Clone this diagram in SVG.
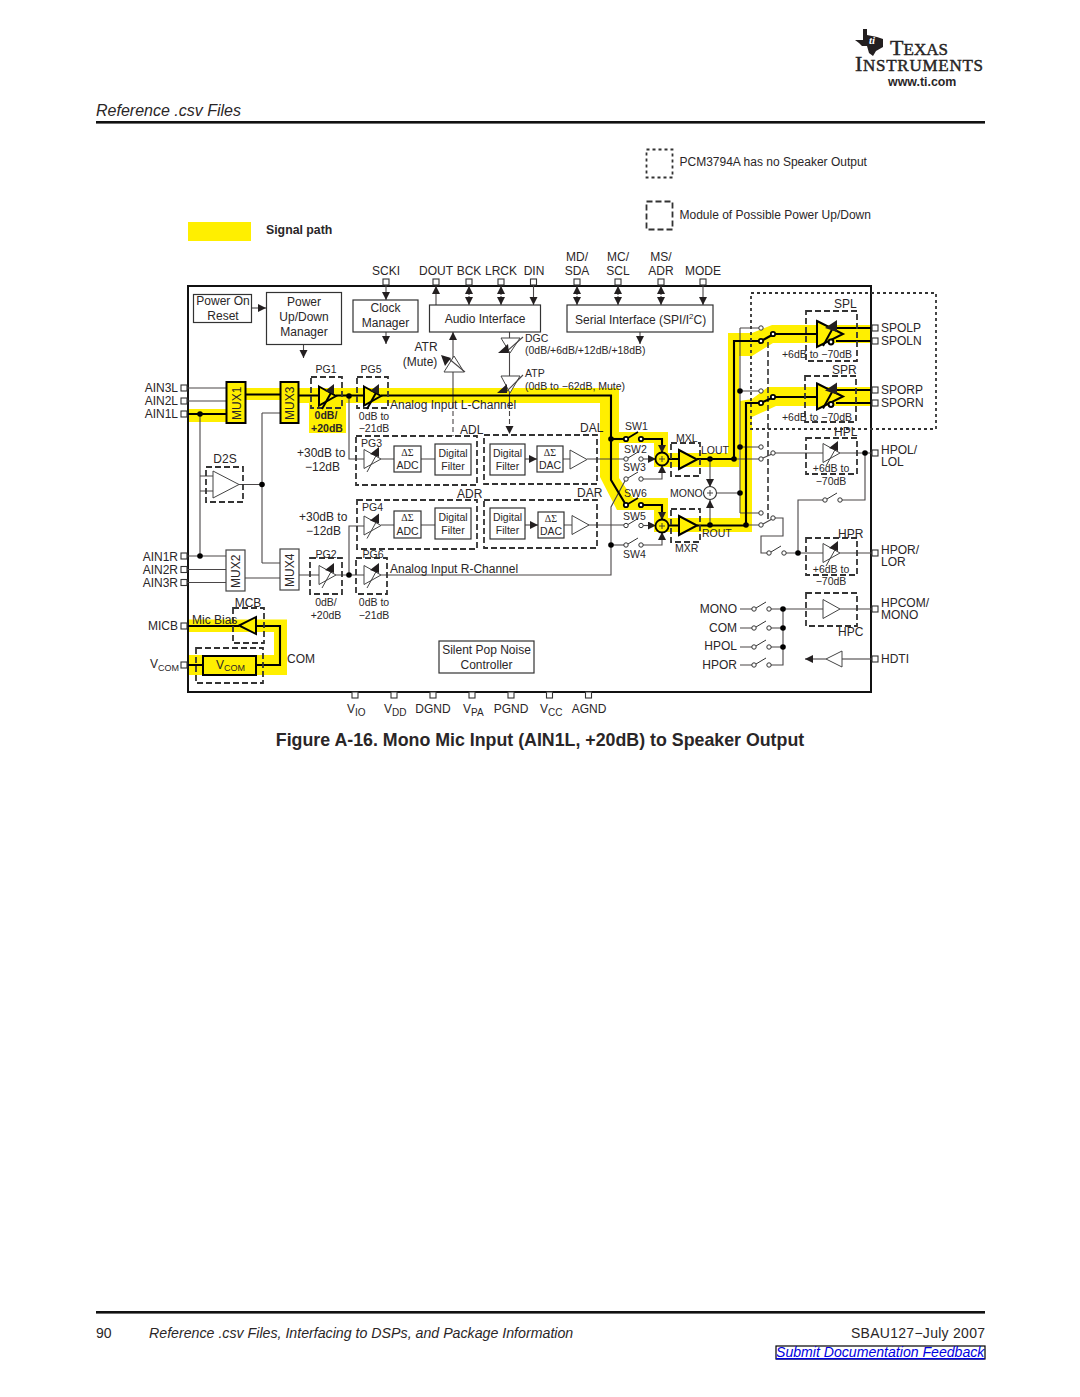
<svg xmlns="http://www.w3.org/2000/svg" width="1080" height="1397" viewBox="0 0 1080 1397">
<style>
text{font-family:"Liberation Sans",Arial,sans-serif;font-size:12px;fill:#2a2627}
.m{text-anchor:middle}.e{text-anchor:end}
.s{font-size:10.5px}.xs{font-size:10px}.bd{font-weight:bold}
.sym{font-family:"Liberation Serif",serif;font-size:10px}
.l{fill:none;stroke:#4a4647;stroke-width:1.1}
.b{fill:none;stroke:#000;stroke-width:2.1}
.box{fill:#fff;stroke:#333;stroke-width:1.2}
.mux{fill:#fff;stroke:#444;stroke-width:1.2}
.muxy{fill:#ffef00;stroke:#000;stroke-width:2}
.dash{fill:none;stroke:#333;stroke-width:1.8;stroke-dasharray:6 3}
.dotted{fill:none;stroke:#333;stroke-width:1.8;stroke-dasharray:3 3}
.dot{fill:#000}
.pin{fill:#fff;stroke:#333;stroke-width:1.1}
.y{fill:#ffef00;stroke:none}
.ath{fill:#fff;stroke:#444;stroke-width:1}
.atb{fill:#ffef00;stroke:#000;stroke-width:2}
.c{fill:#fff;stroke:#333;stroke-width:1}
.cb{fill:#fff;stroke:#000;stroke-width:1.8}
.logo{font-family:"Liberation Serif",serif;font-size:22px;stroke:#231f20;stroke-width:.45}
</style>
<defs>
<marker id="ah" markerUnits="userSpaceOnUse" markerWidth="9" markerHeight="9" refX="8" refY="4" orient="auto"><path d="M0 0L8 4L0 8Z" fill="#231f20"/></marker>
<g id="amp"><path d="M0-9.5L17 0L0 9.5Z"/></g>
<g id="pga"><path d="M0-9.5L17 0L0 9.5Z"/><path d="M3 13L13-5" fill="none"/><path d="M6-5L15-12V-2Z" fill="#231f20" stroke="none"/></g>
<g id="pgb"><path d="M0-13L26 0L0 13Z"/><path d="M6 12L17-8" fill="none"/><path d="M8-6L20-14V-2Z" fill="#231f20" stroke="none"/><circle cx="14" cy="8" r="2.4" fill="#fff"/></g>
<g id="sw"><path d="M2-1L12-7" fill="none"/><circle cx="0" cy="0" r="2.2"/><circle cx="15" cy="0" r="2.2"/></g>
</defs>

<rect width="1080" height="1397" fill="#fff"/>

<g id="logo">
<path d="M863 29H867V35L877 37L883 39V47L876 51L873 56L869 53L867 46H862L859 43L855 40H863Z" fill="#231f20"/>
<text x="869" y="44" style="font:italic bold 11px 'Liberation Serif',serif;fill:#fff">ti</text>
<text x="890" y="55" class="logo" textLength="58">T<tspan font-size="17">EXAS</tspan></text>
<text x="855" y="71" class="logo" textLength="128">I<tspan font-size="17">NSTRUMENTS</tspan></text>
<text x="888" y="86" class="bd" style="font-size:12.4px">www.ti.com</text>
</g>

<g id="page-header">
<text x="96" y="116" style="font-size:16px;font-style:italic">Reference .csv Files</text>
<rect x="96" y="121" width="889" height="2.6" fill="#111"/>
</g>

<g id="legend">
<rect x="646.500" y="149.500" width="26" height="28" class="dotted"/>
<text x="679.500" y="166">PCM3794A has no Speaker Output</text>
<rect x="646.500" y="201.500" width="26" height="28" class="dash"/>
<text x="679.500" y="219">Module of Possible Power Up/Down</text>
<rect x="188" y="222" width="63" height="19" class="y"/>
<text x="266" y="234" class="bd" style="font-size:12.3px">Signal path</text>
</g>

<g id="signal-highlight">
<rect x="246" y="388" width="34" height="12" class="y"/>
<rect x="188" y="409" width="38" height="13" class="y"/>
<rect x="309" y="400" width="37" height="33" class="y"/>
<path class="y" d="M299 388H619V432H668V453H728V333H752L772 325H871V343H773L752 356H739V467H654V443H619V478L633 498H668V518H740V401L752 399L768 387H871V406H776L752 417V532H654V510H617L600 477V403H299Z"/>
<path class="y" d="M188 619.500H287V675H188V655H274V632H188Z"/>
</g>

<rect id="device-frame" x="188" y="286" width="683" height="406" fill="none" stroke="#111" stroke-width="2"/>

<g id="connectors">
<!-- clock and serial control -->
<path class="l" marker-end="url(#ah)" d="M386 285V300"/>
<path class="l" marker-end="url(#ah)" d="M386 332V344"/>
<path class="l" marker-end="url(#ah)" d="M436 305V286"/>
<path class="l" marker-end="url(#ah)" d="M469 295V286"/>
<path class="l" marker-end="url(#ah)" d="M469 296V305"/>
<path class="l" marker-end="url(#ah)" d="M501 295V286"/>
<path class="l" marker-end="url(#ah)" d="M501 296V305"/>
<path class="l" marker-end="url(#ah)" d="M533.500 285V305"/>
<path class="l" marker-end="url(#ah)" d="M577 295V286"/>
<path class="l" marker-end="url(#ah)" d="M577 296V305"/>
<path class="l" marker-end="url(#ah)" d="M618 295V286"/>
<path class="l" marker-end="url(#ah)" d="M618 296V305"/>
<path class="l" marker-end="url(#ah)" d="M661 295V286"/>
<path class="l" marker-end="url(#ah)" d="M661 296V305"/>
<path class="l" marker-end="url(#ah)" d="M703 285V305"/>
<path class="l" marker-end="url(#ah)" d="M640 332V344"/>
<path class="l" marker-end="url(#ah)" d="M252 308H266"/>
<path class="l" marker-end="url(#ah)" d="M303.500 344V358"/>
<!-- left inputs -->
<path class="l" d="M187 388H226M187 401H226M187 556H226M187 569.500H226M187 582.500H226"/>
<path class="l" d="M200 414V556M200 476H213M200 491H213"/>
<path class="l" d="M239 484.500H262M262 413V563M262 413H280M262 563H280M245 578H280"/>
<path class="l" d="M299 575H319M336 575H364M381 575H611V507L626 479"/>
<path class="l" d="M349 396V459H364M349 575V526H364"/>
<!-- ADC and DAC chains -->
<path class="l" d="M381 459H394M421 459H435M381 525H394M421 525H435"/>
<path class="l" marker-end="url(#ah)" d="M525 459H537"/>
<path class="l" marker-end="url(#ah)" d="M525 525H538"/>
<path class="l" d="M563 459H570M564 525H572"/>
<path class="l" d="M587 459H626M588 525H626"/>
<path class="l" marker-end="url(#ah)" d="M641 459H656"/>
<path class="l" marker-end="url(#ah)" d="M641 525.500H656"/>
<path class="l" marker-end="url(#ah)" d="M641 479H662V465"/>
<path class="l" marker-end="url(#ah)" d="M641 545H662V532"/>
<path class="l" d="M611 545H626"/>
<!-- record path and playback bypass -->
<path class="l" marker-end="url(#ah)" d="M453 403V332"/>
<path class="l" stroke-dasharray="5 3" d="M453 403V436"/>
<path class="l" d="M509.500 332V403"/>
<path class="l" stroke-dasharray="5 3" marker-end="url(#ah)" d="M509.500 403V434"/>
<!-- mono mixer and output routing -->
<path class="l" marker-end="url(#ah)" d="M710 459V487"/>
<path class="l" marker-end="url(#ah)" d="M710 525V500"/>
<path class="l" d="M716.500 493H740M740 328V513M740 328H761M740 391H761M740 447H761M740 513H761"/>
<path class="l" d="M734 459H761M746 525H761"/>
<path class="l" d="M773 453H823M840 453H872M865 453V500H839M825 500H798V553"/>
<path class="l" d="M773 518H783V536H761V553H769M784 553H823M840 553H872"/>
<path class="l" d="M740 609H752M740 628H752M740 647H752M740 665H752"/>
<path class="l" d="M768 609H823M840 609H872M768 628H783M768 647H783M768 665H783V609"/>
<path class="l" marker-end="url(#ah)" d="M826 659H805"/>
<path class="l" d="M842 659H872"/>
<path fill="none" stroke="#333" stroke-width="1.600" stroke-dasharray="6 3" d="M768 342V522"/>
<!-- highlighted signal path -->
<path class="b" d="M187 414H226M246 394.500H280M299 395.500H319M336 395.500H364M381 395.500H611V480L626 505"/>
<path class="b" d="M611 439H626"/>
<path class="b" marker-end="url(#ah)" d="M641 439H662V453"/>
<path class="b" marker-end="url(#ah)" d="M641 505H662V520"/>
<path class="b" d="M669 459H679M697 459H734V341H761M773 334H817M836 328H871M836 341H871"/>
<path class="b" d="M669 525.500H679M697 525.500H746V403H761M773 397H817M836 390H871M836 403H871"/>
<path class="b" d="M763 340L772 335M763 402L772 398"/>
<path class="b" d="M187 626H239M256 626H280V665H256M203 665H187"/>
</g>

<g id="dots">
<circle class="dot" cx="200" cy="414" r="2.800"/><circle class="dot" cx="200" cy="556" r="2.800"/>
<circle class="dot" cx="262" cy="484.500" r="2.800"/><circle class="dot" cx="349" cy="396" r="2.800"/>
<circle class="dot" cx="349" cy="575" r="2.800"/><circle class="dot" cx="611" cy="439" r="2.800"/>
<circle class="dot" cx="611" cy="545" r="2.800"/><circle class="dot" cx="710" cy="459" r="2.800"/>
<circle class="dot" cx="734" cy="459" r="2.800"/><circle class="dot" cx="710" cy="525" r="2.800"/>
<circle class="dot" cx="746" cy="525" r="2.800"/><circle class="dot" cx="740" cy="391" r="2.800"/>
<circle class="dot" cx="740" cy="447" r="2.800"/><circle class="dot" cx="740" cy="493" r="2.800"/>
<circle class="dot" cx="865" cy="453" r="2.800"/><circle class="dot" cx="798" cy="553" r="2.800"/>
<circle class="dot" cx="783" cy="609" r="2.800"/><circle class="dot" cx="783" cy="628" r="2.800"/>
<circle class="dot" cx="783" cy="647" r="2.800"/>
</g>

<g id="pins-top">
<rect class="pin" x="383" y="279" width="6" height="6"/><text x="386" y="275" class="m">SCKI</text>
<rect class="pin" x="433" y="279" width="6" height="6"/><text x="436" y="275" class="m">DOUT</text>
<rect class="pin" x="466" y="279" width="6" height="6"/><text x="469" y="275" class="m">BCK</text>
<rect class="pin" x="498" y="279" width="6" height="6"/><text x="501" y="275" class="m">LRCK</text>
<rect class="pin" x="530.500" y="279" width="6" height="6"/><text x="534" y="275" class="m">DIN</text>
<rect class="pin" x="574" y="279" width="6" height="6"/><text x="577" y="261" class="m">MD/</text><text x="577" y="275" class="m">SDA</text>
<rect class="pin" x="615" y="279" width="6" height="6"/><text x="618" y="261" class="m">MC/</text><text x="618" y="275" class="m">SCL</text>
<rect class="pin" x="658" y="279" width="6" height="6"/><text x="661" y="261" class="m">MS/</text><text x="661" y="275" class="m">ADR</text>
<rect class="pin" x="700" y="279" width="6" height="6"/><text x="703" y="275" class="m">MODE</text>
</g>

<g id="pins-left">
<rect class="pin" x="181" y="385" width="6" height="6"/><text x="178" y="392" class="e">AIN3L</text>
<rect class="pin" x="181" y="398" width="6" height="6"/><text x="178" y="405" class="e">AIN2L</text>
<rect class="pin" x="181" y="411" width="6" height="6"/><text x="178" y="418" class="e">AIN1L</text>
<rect class="pin" x="181" y="553" width="6" height="6"/><text x="178" y="561" class="e">AIN1R</text>
<rect class="pin" x="181" y="566.500" width="6" height="6"/><text x="178" y="574" class="e">AIN2R</text>
<rect class="pin" x="181" y="579.500" width="6" height="6"/><text x="178" y="587" class="e">AIN3R</text>
<rect class="pin" x="181" y="623" width="6" height="6"/><text x="178" y="630" class="e">MICB</text>
<rect class="pin" x="181" y="662" width="6" height="6"/><text x="150" y="668">V<tspan class="xs" font-size="9" style="font-size:9px" dy="3">COM</tspan></text>
</g>

<g id="pins-right">
<rect class="pin" x="872" y="325" width="6" height="6"/><text x="881" y="332">SPOLP</text>
<rect class="pin" x="872" y="338" width="6" height="6"/><text x="881" y="345">SPOLN</text>
<rect class="pin" x="872" y="387" width="6" height="6"/><text x="881" y="394">SPORP</text>
<rect class="pin" x="872" y="400" width="6" height="6"/><text x="881" y="407">SPORN</text>
<rect class="pin" x="872" y="450" width="6" height="6"/><text x="881" y="454">HPOL/</text><text x="881" y="466">LOL</text>
<rect class="pin" x="872" y="550" width="6" height="6"/><text x="881" y="554">HPOR/</text><text x="881" y="566">LOR</text>
<rect class="pin" x="872" y="606" width="6" height="6"/><text x="881" y="607">HPCOM/</text><text x="881" y="619">MONO</text>
<rect class="pin" x="872" y="656" width="6" height="6"/><text x="881" y="663">HDTI</text>
</g>

<g id="pins-bottom">
<rect class="pin" x="352" y="692" width="6" height="6"/><text x="347" y="713">V<tspan class="xs" dy="3">IO</tspan></text>
<rect class="pin" x="391" y="692" width="6" height="6"/><text x="384" y="713">V<tspan class="xs" dy="3">DD</tspan></text>
<rect class="pin" x="430" y="692" width="6" height="6"/><text x="433" y="713" class="m">DGND</text>
<rect class="pin" x="469" y="692" width="6" height="6"/><text x="463" y="713">V<tspan class="xs" dy="3">PA</tspan></text>
<rect class="pin" x="508" y="692" width="6" height="6"/><text x="511" y="713" class="m">PGND</text>
<rect class="pin" x="546.500" y="692" width="6" height="6"/><text x="540" y="713">V<tspan class="xs" dy="3">CC</tspan></text>
<rect class="pin" x="585.500" y="692" width="6" height="6"/><text x="589" y="713" class="m">AGND</text>
</g>

<g id="power-on-reset"><rect class="box" x="193.500" y="294.500" width="58" height="28"/><text x="223" y="305" class="m">Power On</text><text x="223" y="320" class="m">Reset</text></g>
<g id="power-manager"><rect class="box" x="266.500" y="292.500" width="75" height="52"/><text x="304" y="306" class="m">Power</text><text x="304" y="321" class="m">Up/Down</text><text x="304" y="336" class="m">Manager</text></g>
<g id="clock-manager"><rect class="box" x="353" y="300" width="65" height="32"/><text x="385.500" y="312" class="m">Clock</text><text x="385.500" y="327" class="m">Manager</text></g>
<g id="audio-interface"><rect class="box" x="429.500" y="305" width="111" height="27"/><text x="485" y="323" class="m">Audio Interface</text></g>
<g id="serial-interface"><rect class="box" x="567" y="305" width="146" height="27"/><text x="575" y="324">Serial Interface (SPI/I<tspan font-size="8" dy="-5">2</tspan><tspan dy="5">C)</tspan></text></g>

<g id="mux1"><rect class="muxy" x="226.500" y="382" width="19" height="41"/><text transform="translate(240.500 420) rotate(-90)">MUX1</text></g>
<g id="mux2"><rect class="mux" x="226" y="550" width="19" height="41"/><text transform="translate(240 588) rotate(-90)">MUX2</text></g>
<g id="mux3"><rect class="muxy" x="280.500" y="382" width="18" height="41"/><text transform="translate(294 420) rotate(-90)">MUX3</text></g>
<g id="mux4"><rect class="mux" x="280" y="549" width="19" height="41"/><text transform="translate(294 587) rotate(-90)">MUX4</text></g>

<g id="d2s"><rect class="dash" x="206" y="467" width="37" height="35"/><path class="ath" d="M213 471L239 484.500L213 498Z"/><text x="225" y="463" class="m">D2S</text></g>

<g id="pg1"><rect class="dash" x="311" y="377" width="31" height="31"/><use href="#pga" x="319" y="396" class="atb"/><text x="326" y="373" class="m s">PG1</text><text x="326" y="419" class="m s bd">0dB/</text><text x="327" y="432" class="m s bd">+20dB</text></g>
<g id="pg5"><rect class="dash" x="357" y="377" width="31" height="31"/><use href="#pga" x="364" y="396" class="atb"/><text x="371" y="373" class="m s">PG5</text><text x="374" y="420" class="m s">0dB to</text><text x="374" y="432" class="m s">−21dB</text></g>
<g id="pg2"><rect class="dash" x="310" y="558" width="32" height="36"/><use href="#pga" x="319" y="575" class="ath"/><text x="326" y="558" class="m s">PG2</text><text x="326" y="606" class="m s">0dB/</text><text x="326" y="619" class="m s">+20dB</text></g>
<g id="pg6"><rect class="dash" x="356" y="558" width="31" height="36"/><use href="#pga" x="364" y="575" class="ath"/><text x="373" y="558" class="m s">PG6</text><text x="374" y="606" class="m s">0dB to</text><text x="374" y="619" class="m s">−21dB</text></g>

<g id="adl">
<rect class="dash" x="356" y="436" width="121" height="49"/><text x="460" y="434">ADL</text>
<use href="#pga" x="364" y="459" class="ath"/><text x="361" y="447" class="s">PG3</text>
<rect class="box" x="394" y="446" width="27" height="26"/><text x="407.500" y="456" class="m sym">ΔΣ</text><text x="407.500" y="469" class="m s">ADC</text>
<rect class="box" x="435" y="444" width="36" height="31"/><text x="453" y="457" class="m s">Digital</text><text x="453" y="470" class="m s">Filter</text>
</g>
<g id="dal">
<rect class="dash" x="484" y="435" width="113" height="49"/><text x="580" y="432">DAL</text>
<rect class="box" x="490" y="444" width="35" height="31"/><text x="507.500" y="457" class="m s">Digital</text><text x="507.500" y="470" class="m s">Filter</text>
<rect class="box" x="537" y="446" width="26" height="26"/><text x="550" y="456" class="m sym">ΔΣ</text><text x="550" y="469" class="m s">DAC</text>
<use href="#amp" x="570" y="459.500" class="ath"/>
</g>
<g id="adr">
<rect class="dash" x="357" y="500" width="120" height="49"/><text x="457" y="498">ADR</text>
<use href="#pga" x="364" y="525.500" class="ath"/><text x="362" y="511" class="s">PG4</text>
<rect class="box" x="394" y="511" width="27" height="27"/><text x="407.500" y="521" class="m sym">ΔΣ</text><text x="407.500" y="535" class="m s">ADC</text>
<rect class="box" x="435" y="508" width="36" height="31"/><text x="453" y="521" class="m s">Digital</text><text x="453" y="534" class="m s">Filter</text>
</g>
<g id="dar">
<rect class="dash" x="484" y="500" width="113" height="48"/><text x="577" y="497">DAR</text>
<rect class="box" x="490" y="508" width="35" height="31"/><text x="507.500" y="521" class="m s">Digital</text><text x="507.500" y="534" class="m s">Filter</text>
<rect class="box" x="538" y="512" width="26" height="26"/><text x="551" y="522" class="m sym">ΔΣ</text><text x="551" y="535" class="m s">DAC</text>
<use href="#amp" x="572" y="525" class="ath"/>
</g>

<g id="gain-labels">
<text x="297" y="457">+30dB to</text><text x="305" y="471">−12dB</text>
<text x="299" y="521">+30dB to</text><text x="306" y="535">−12dB</text>
<text x="390" y="409">Analog Input L-Channel</text><text x="390" y="573">Analog Input R-Channel</text>
</g>

<g id="atr"><path class="ath" d="M444 372H464L454 356Z"/><path class="l" d="M448 358L465 372"/><path d="M441 355L451 358L445 366Z" fill="#231f20"/><text x="426" y="351" class="m">ATR</text><text x="420" y="366" class="m">(Mute)</text></g>
<g id="dgc"><path class="ath" d="M501 338H520L510 353Z"/><path class="l" d="M506 352L523 337"/><path d="M498 353L508 344L509 353Z" fill="#231f20"/><text x="525" y="342" class="s">DGC</text><text x="525" y="354" class="s">(0dB/+6dB/+12dB/+18dB)</text></g>
<g id="atp"><path class="ath" d="M501 376H520L510 393Z"/><path class="l" d="M506 392L523 375"/><path d="M497 393L507 384L507 393Z" fill="#231f20"/><text x="525" y="377" class="s">ATP</text><text x="525" y="390" class="s">(0dB to −62dB, Mute)</text></g>

<g id="sw1"><use href="#sw" x="626" y="439" class="cb"/><text x="625" y="430" class="s">SW1</text></g>
<g id="sw2"><use href="#sw" x="626" y="459" class="c"/><text x="624" y="453" class="s">SW2</text></g>
<g id="sw3"><use href="#sw" x="626" y="479" class="c"/><text x="623" y="471" class="s">SW3</text></g>
<g id="sw6"><use href="#sw" x="626" y="505" class="cb"/><text x="624" y="497" class="s">SW6</text></g>
<g id="sw5"><use href="#sw" x="626" y="525.500" class="c"/><text x="623" y="520" class="s">SW5</text></g>
<g id="sw4"><use href="#sw" x="626" y="545" class="c"/><text x="623" y="558" class="s">SW4</text></g>

<g id="mxl">
<circle cx="662" cy="459" r="6.500" fill="#ffef00" stroke="#000" stroke-width="1.800"/><path d="M659 459H665M662 456V462" stroke="#333" stroke-width=".9"/>
<rect class="dash" x="671" y="443" width="29" height="33"/><path class="atb" d="M679 450L697 459.500L679 469Z"/><text x="676" y="442" class="s">MXL</text><text x="701" y="454" class="s">LOUT</text>
</g>
<g id="mxr">
<circle cx="662" cy="526" r="6.500" fill="#ffef00" stroke="#000" stroke-width="1.800"/><path d="M659 526H665M662 523V529" stroke="#333" stroke-width=".9"/>
<rect class="dash" x="671" y="509" width="29" height="33"/><path class="atb" d="M679 516L697 525.500L679 535Z"/><text x="675" y="552" class="s">MXR</text><text x="702" y="537" class="s">ROUT</text>
</g>
<g id="mono-mix"><circle cx="710" cy="493" r="6.500" fill="#fff" stroke="#333" stroke-width="1.100"/><path d="M707 493H713M710 490V496" stroke="#333" stroke-width=".9"/><text x="670" y="497" class="s">MONO</text></g>

<g id="output-switches">
<circle class="c" cx="761" cy="328" r="2.200"/><circle class="cb" cx="761" cy="341" r="2.200"/><circle class="cb" cx="773" cy="334" r="2.200"/>
<circle class="c" cx="761" cy="391" r="2.200"/><circle class="cb" cx="761" cy="403" r="2.200"/><circle class="cb" cx="773" cy="397" r="2.200"/>
<path class="l" d="M763 458L772 454M763 524L772 519"/>
<circle class="c" cx="761" cy="447" r="2.200"/><circle class="c" cx="761" cy="459" r="2.200"/><circle class="c" cx="773" cy="453" r="2.200"/>
<circle class="c" cx="761" cy="513" r="2.200"/><circle class="c" cx="761" cy="525" r="2.200"/><circle class="c" cx="773" cy="518" r="2.200"/>
<use href="#sw" x="769" y="553" class="c"/><use href="#sw" x="825" y="500" class="c"/>
</g>

<g id="spl"><rect class="dash" x="806" y="311" width="51" height="50"/><use href="#pgb" x="817" y="334" class="atb"/><text x="834" y="308">SPL</text><text x="817" y="358" class="m s">+6dB to −70dB</text></g>
<g id="spr"><rect class="dash" x="805" y="376" width="51" height="46"/><use href="#pgb" x="817" y="396.500" class="atb"/><text x="832" y="374">SPR</text><text x="817" y="421" class="m s">+6dB to −70dB</text></g>
<g id="hpl"><rect class="dash" x="806" y="438" width="51" height="36"/><use href="#pga" x="823" y="453" class="ath"/><text x="834" y="436">HPL</text><text x="831" y="472" class="m s">+6dB to</text><text x="831" y="485" class="m s">−70dB</text></g>
<g id="hpr"><rect class="dash" x="806" y="538" width="51" height="37"/><use href="#pga" x="823" y="553" class="ath"/><text x="838" y="538">HPR</text><text x="831" y="573" class="m s">+6dB to</text><text x="831" y="585" class="m s">−70dB</text></g>
<g id="hpc"><rect class="dash" x="806" y="593" width="51" height="33"/><use href="#amp" x="823" y="609" class="ath"/><text x="838" y="636">HPC</text></g>

<g id="hpcom-select">
<use href="#sw" x="754" y="609" class="c"/><text x="737" y="613" class="e">MONO</text>
<use href="#sw" x="754" y="628" class="c"/><text x="737" y="632" class="e">COM</text>
<use href="#sw" x="754" y="647" class="c"/><text x="737" y="650" class="e">HPOL</text>
<use href="#sw" x="754" y="665" class="c"/><text x="737" y="669" class="e">HPOR</text>
</g>
<g id="hdti-buffer"><path class="ath" d="M842 651V667L826 659Z"/></g>

<g id="mcb"><rect class="dash" x="233" y="608" width="31" height="35"/><path class="atb" d="M256 617V634L239 625.500Z"/><text x="248" y="607" class="m">MCB</text><text x="192" y="624">Mic Bias</text></g>
<g id="vcom"><rect class="dash" x="196" y="648" width="67" height="35"/><rect class="muxy" x="203" y="656" width="53" height="19"/><text x="216" y="669">V<tspan style="font-size:9px" dy="2">COM</tspan></text><text x="287" y="663">COM</text></g>
<g id="silent-pop"><rect class="box" x="439" y="641" width="95" height="32"/><text x="486.500" y="654" class="m">Silent Pop Noise</text><text x="486.500" y="669" class="m">Controller</text></g>

<rect id="speaker-scope" x="751" y="293" width="185" height="136" class="dotted"/>

<text id="figure-title" x="540" y="746" class="m bd" style="font-size:17.8px">Figure A-16. Mono Mic Input (AIN1L, +20dB) to Speaker Output</text>

<g id="page-footer">
<rect x="96" y="1311" width="889" height="2.6" fill="#111"/>
<text x="96" y="1338" style="font-size:14px">90</text>
<text x="149" y="1338" style="font-size:14.2px;font-style:italic">Reference .csv Files, Interfacing to DSPs, and Package Information</text>
<text x="851" y="1338" style="font-size:14px" textLength="134">SBAU127−July 2007</text>
<rect x="776" y="1346" width="209" height="13" fill="none" stroke="#000" stroke-width="1.200"/>
<text x="776" y="1357" style="font-size:14.1px;font-style:italic;fill:#0000e0;text-decoration:underline">Submit Documentation Feedback</text>
</g>
</svg>
